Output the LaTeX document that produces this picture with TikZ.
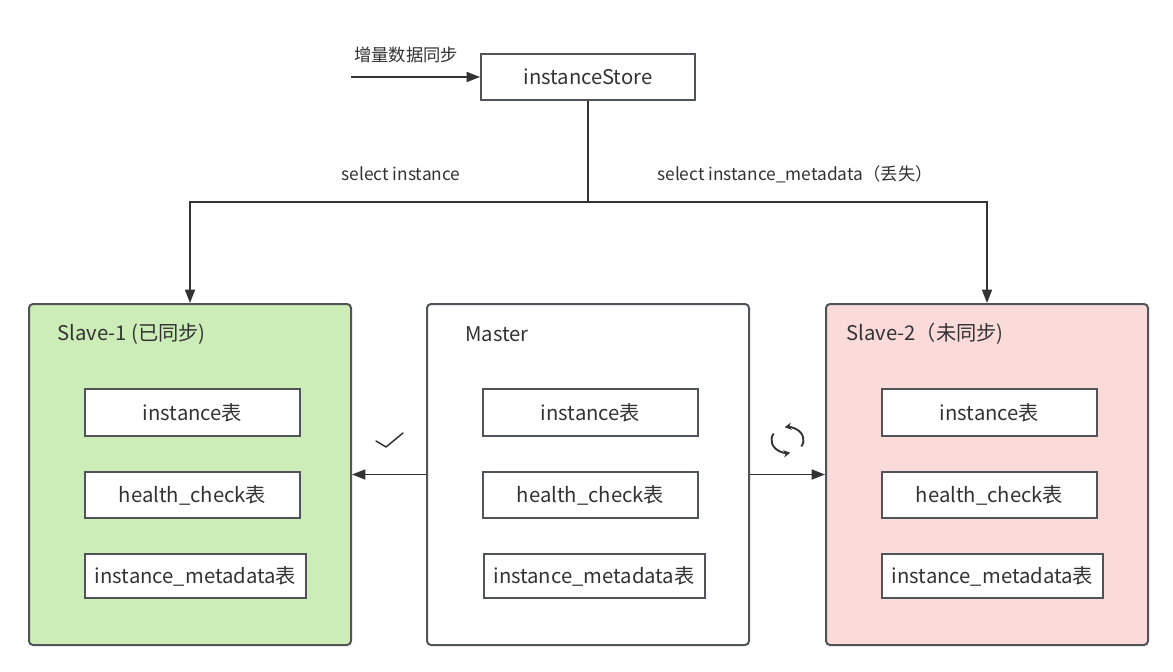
\documentclass[tikz,border=0pt]{standalone}
\usepackage{fontspec}
\setmainfont{Noto Sans CJK SC}
\usetikzlibrary{arrows.meta}
\definecolor{edge}{HTML}{505459}
\definecolor{txt}{HTML}{333333}
\definecolor{greenbg}{HTML}{CDEDB8}
\definecolor{pinkbg}{HTML}{FADBDA}
\begin{document}
\begin{tikzpicture}[x=0.75pt,y=-0.75pt,
  every node/.style={text=txt,font=\fontsize{15.2pt}{18pt}\selectfont},
  bigbox/.style={draw=edge,line width=1.5pt,rounded corners=3pt,minimum width=241.5pt,minimum height=255.75pt,inner sep=0pt},
  tbl/.style={draw=edge,line width=1.5pt,fill=white,minimum height=34.5pt,inner sep=0pt},
  title/.style={anchor=west,inner sep=0pt},
  lbl/.style={font=\fontsize{13pt}{15pt}\selectfont,inner sep=0pt},
  conn/.style={draw=txt,line width=1.2pt},
  arr/.style={conn,-{Triangle[length=10pt,width=7.5pt]}}]
\useasboundingbox[fill=white] (0,0) rectangle (1173,671);

% store
\node[tbl,minimum width=160.5pt] (store) at (588,77) {instanceStore};
\coordinate (src) at (351,77);
\draw[arr] (src) -- (store.west);
\node[lbl] (inc) at (406,55) {增量数据同步};

% big boxes
\node[bigbox,fill=greenbg] (s1) at (190,474.5) {};
\node[bigbox,fill=white] (master) at (588,474.5) {};
\node[bigbox,fill=pinkbg] (s2) at (987,474.5) {};

\node[title] (s1t) at (57,334) {Slave-1 (已同步)};
\node[title] (mt) at (465,334) {Master};
\node[title] (s2t) at (846,334) {Slave-2（未同步)};

% tables
\foreach \n/\x in {a/192.5,b/590.5,c/989.5}{
  \node[tbl,minimum width=161.25pt,minimum height=35.25pt] (inst\n) at (\x,412.5) {instance表};
  \node[tbl,minimum width=161.25pt] (hc\n) at (\x,495) {health\_check表};
}
\foreach \n/\x in {a/195.5,b/594,c/992.5}{
  \node[tbl,minimum width=165.75pt,minimum height=33pt] (meta\n) at (\x,576) {instance\_metadata表};
}

% top connectors
\coordinate (split) at (588,202);
\draw[conn] (store.south) -- (split);
\draw[arr] (split) -| (s1.north);
\draw[arr] (split) -| (s2.north);
\node[lbl] (sel1) at (401,174) {select instance};
\node[lbl] (sel2) at (795,174) {select instance\_metadata（丢失）};

% replication arrows
\draw[arr] (master.west) -- (s1.east);
\draw[arr] (master.east) -- (s2.east -| s2.west);

% check mark
\draw[txt,line width=1.1pt,line cap=round,line join=round] (376,441) -- (386,447) -- (403,433);

% sync icon
\coordinate (sync) at (787.5,440);
\draw[txt,line width=1.4pt,-{Stealth[length=5pt,width=5.5pt]}] ([shift={(30:16 and 13)}]sync) arc[start angle=30,end angle=-100,x radius=16,y radius=13];
\draw[txt,line width=1.4pt,-{Stealth[length=5pt,width=5.5pt]}] ([shift={(-150:16 and 13)}]sync) arc[start angle=-150,end angle=-280,x radius=16,y radius=13];
\end{tikzpicture}
\end{document}
